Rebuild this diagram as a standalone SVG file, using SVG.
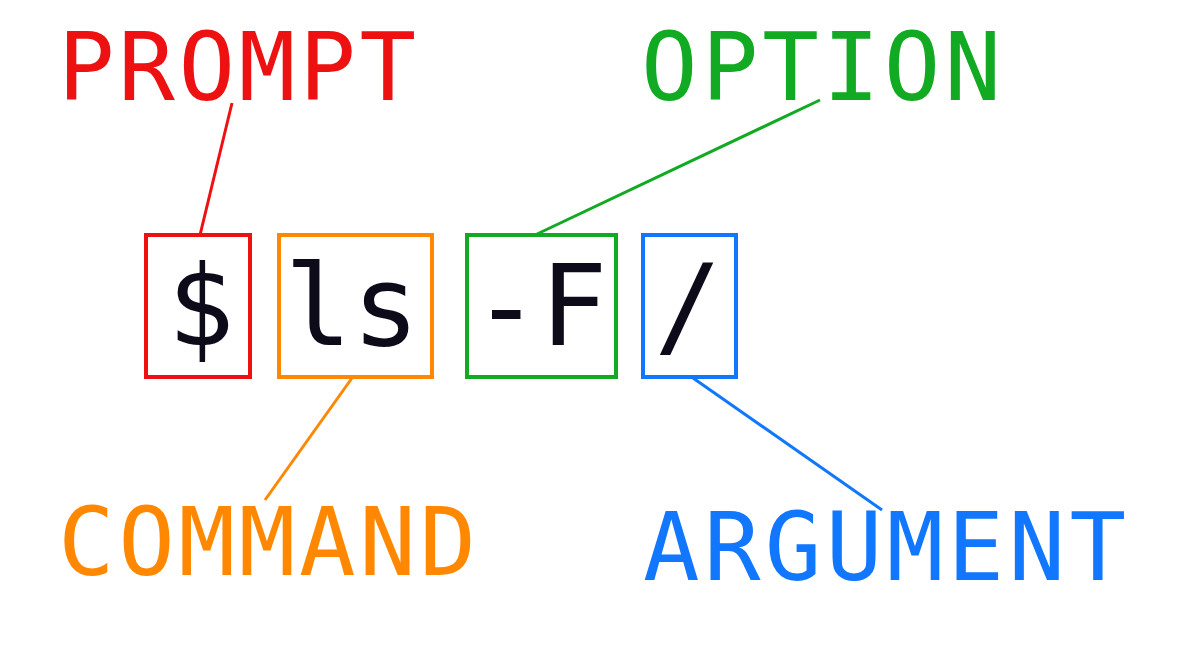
<svg xmlns="http://www.w3.org/2000/svg" width="1183" height="669" viewBox="0 0 1183 669">
<style>
.lbl{font-family:"DejaVu Sans Mono",monospace;font-size:94px}
.cmd{font-family:"DejaVu Sans Mono",monospace;font-size:112px;fill:#0d0b1a;text-anchor:middle}
.box{fill:none;stroke-width:4}
.ln{stroke-width:3;fill:none}
</style>
<rect width="1183" height="669" fill="#fff"/>
<g id="connectors">
<line class="ln" x1="232" y1="103" x2="200" y2="235" stroke="#ee1111"/>
<line class="ln" x1="820" y1="100" x2="535" y2="235" stroke="#11aa22"/>
<line class="ln" x1="352" y1="378" x2="265" y2="500" stroke="#ff8800"/>
<line class="ln" x1="693" y1="378" x2="882" y2="510" stroke="#1177ff"/>
</g>
<g id="prompt"><rect class="box" x="146" y="235" width="104" height="142" stroke="#ee1111"/><text class="cmd" x="201" y="345">$</text></g>
<g id="command"><rect class="box" x="279" y="235" width="153" height="142" stroke="#ff8800"/><text class="cmd" x="352" y="345">ls</text></g>
<g id="option"><rect class="box" x="467" y="235" width="149" height="142" stroke="#11aa22"/><text class="cmd" x="540" y="345">-F</text></g>
<g id="argument"><rect class="box" x="643" y="235" width="93" height="142" stroke="#1177ff"/><text class="cmd" x="688" y="345">/</text></g>
<g id="label-prompt"><text class="lbl" x="58" y="100" fill="#ee1111" textLength="358">PROMPT</text></g>
<g id="label-option"><text class="lbl" x="641" y="100" fill="#11aa22" textLength="360">OPTION</text></g>
<g id="label-command"><text class="lbl" x="58" y="575" fill="#ff8800" textLength="418">COMMAND</text></g>
<g id="label-argument"><text class="lbl" x="643" y="580" fill="#1177ff" textLength="483">ARGUMENT</text></g>
</svg>
